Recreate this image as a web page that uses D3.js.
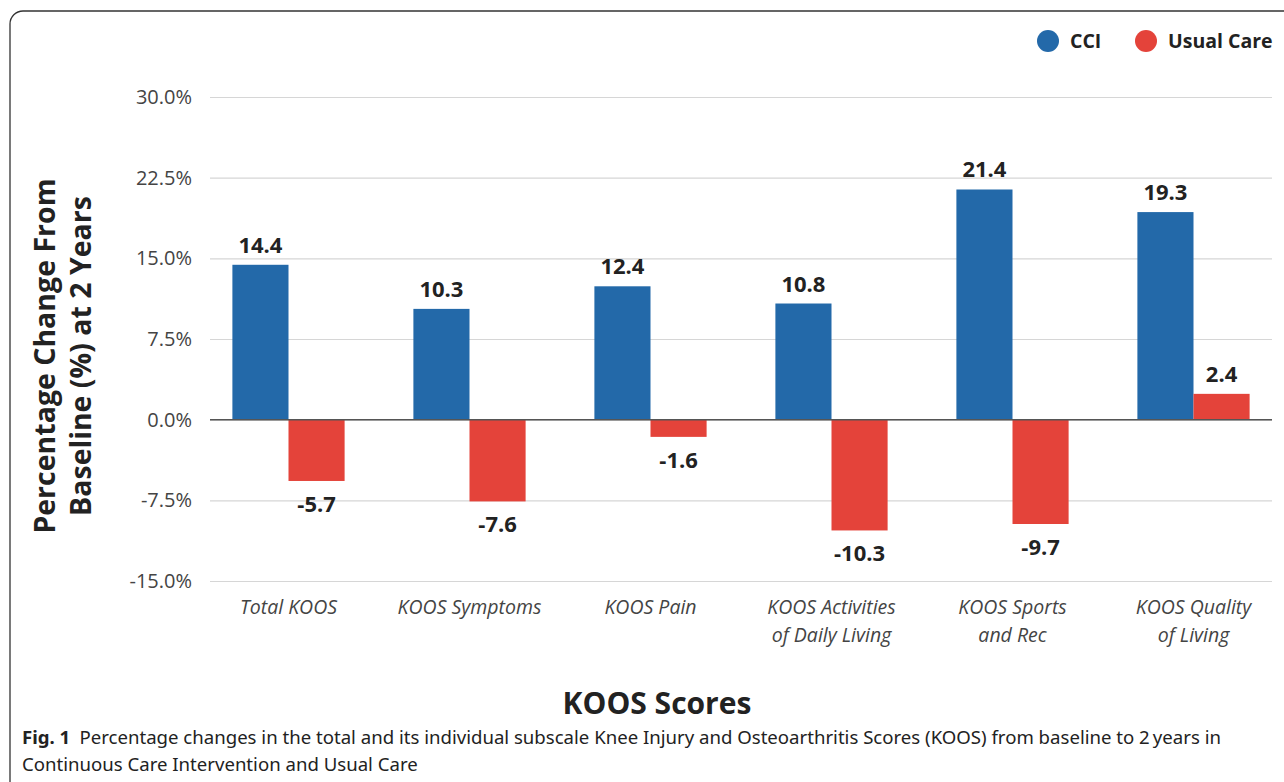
<!DOCTYPE html>
<html>
<head>
<meta charset="utf-8">
<script src="https://cdn.jsdelivr.net/npm/d3@7"></script>
<style>
  body { margin: 0; background: #fff; }
  svg { display: block; }
</style>
</head>
<body>
<div id="chart"></div>
<script>
// data
var categories = [
  ["Total KOOS"],
  ["KOOS Symptoms"],
  ["KOOS Pain"],
  ["KOOS Activities", "of Daily Living"],
  ["KOOS Sports", "and Rec"],
  ["KOOS Quality", "of Living"]
];
var seriesNames = ["CCI", "Usual Care"];
var cciValues = [14.4, 10.3, 12.4, 10.8, 21.4, 19.3];
var usualCareValues = [-5.7, -7.6, -1.6, -10.3, -9.7, 2.4];
var yTicks = [-15, -7.5, 0, 7.5, 15, 22.5, 30];

var colBlue = "#2369a9";
var colRed = "#e4433a";

// plain hyphen for negatives, like the figure
function fmt1(v) { return d3.format(".1f")(v).replace("\u2212", "-"); }

(function(){
  var W = 1284, H = 782;
  var svg = d3.select("#chart").append("svg")
    .attr("width", W).attr("height", H);

  // frame round the figure (cut by the page edge)
  svg.append("rect")
    .attr("x", 10).attr("y", 11)
    .attr("width", 1320).attr("height", 820)
    .attr("rx", 13)
    .attr("fill", "none")
    .attr("stroke", "#333")
    .attr("stroke-width", 1.3);

  var gridL = 210, gridR = 1272;

  ///////////////////////////////////////// scales
  var y = d3.scaleLinear().domain([-15, 30]).range([581, 97]);
  var x0 = d3.scaleBand()
    .domain(d3.range(categories.length))
    .range([198, 1284])
    .paddingInner(0.38)
    .paddingOuter(0.19);
  var x1 = d3.scaleBand().domain([0, 1]).range([0, x0.bandwidth()]);

  ///////////////////////////////////////// gridlines + y labels
  var yAxis = svg.append("g")
    .attr("transform", "translate(" + gridL + ",0)")
    .call(d3.axisLeft(y)
      .tickValues(yTicks)
      .tickSize(-(gridR - gridL))
      .tickPadding(18)
      .tickFormat(function(d){ return fmt1(d) + "%"; }));
  yAxis.select(".domain").remove();
  yAxis.selectAll("line")
    .attr("stroke", "#d6d6d6")
    .attr("stroke-width", 1.2);
  yAxis.selectAll("text")
    .attr("fill", "#444")
    .style("font-family", "'Open Sans', sans-serif")
    .style("font-size", "20px");

  ///////////////////////////////////////// bars
  var rows = categories.map(function(c, i){
    return { i: i, vals: [cciValues[i], usualCareValues[i]] };
  });
  var groups = svg.selectAll(".grp").data(rows).enter().append("g")
    .attr("transform", function(d){ return "translate(" + x0(d.i) + ",0)"; });

  groups.selectAll("rect")
    .data(function(d){ return d.vals.map(function(v, k){ return { k: k, v: v }; }); })
    .enter().append("rect")
      .attr("x", function(d){ return x1(d.k); })
      .attr("width", x1.bandwidth())
      .attr("y", function(d){ return y(Math.max(0, d.v)); })
      .attr("height", function(d){ return Math.abs(y(d.v) - y(0)); })
      .attr("fill", function(d){ return d.k === 0 ? colBlue : colRed; });

  groups.selectAll(".val")
    .data(function(d){ return d.vals.map(function(v, k){ return { k: k, v: v }; }); })
    .enter().append("text")
      .attr("x", function(d){ return x1(d.k) + x1.bandwidth() / 2; })
      .attr("y", function(d){ return d.v >= 0 ? y(d.v) - 12 : y(d.v) + 31; })
      .attr("text-anchor", "middle")
      .attr("fill", "#222")
      .style("font-family", "'Open Sans', sans-serif")
      .style("font-weight", "700")
      .style("font-size", "22px")
      .text(function(d){ return fmt1(d.v); });

  // zero line
  svg.append("line")
    .attr("x1", gridL).attr("x2", gridR)
    .attr("y1", y(0)).attr("y2", y(0))
    .attr("stroke", "#555")
    .attr("stroke-width", 1.5);

  ///////////////////////////////////////// category labels
  var catText = svg.selectAll(".cat").data(categories).enter().append("text")
    .attr("text-anchor", "middle")
    .attr("fill", "#444")
    .style("font-family", "'Open Sans', sans-serif")
    .style("font-style", "italic")
    .style("font-size", "19.5px")
    .attr("transform", function(d, i){ return "translate(" + (x0(i) + x0.bandwidth() / 2) + ",614)"; });
  catText.selectAll("tspan").data(function(d){ return d; }).enter().append("tspan")
    .attr("x", 0)
    .attr("dy", function(d, j){ return j === 0 ? 0 : 28; })
    .text(function(d){ return d; });

  ///////////////////////////////////////// axis titles
  var yTitle = svg.append("text")
    .attr("transform", "translate(0,356) rotate(-90)")
    .attr("text-anchor", "middle")
    .attr("fill", "#222")
    .style("font-family", "'Open Sans', sans-serif")
    .style("font-weight", "700")
    .style("font-size", "28.5px");
  yTitle.append("tspan").attr("x", 0).attr("y", 55).text("Percentage Change From");
  yTitle.append("tspan").attr("x", 0).attr("y", 91).text("Baseline (%) at 2 Years");

  svg.append("text")
    .attr("x", 657).attr("y", 714)
    .attr("text-anchor", "middle")
    .attr("fill", "#222")
    .style("font-family", "'Open Sans', sans-serif")
    .style("font-weight", "700")
    .style("font-size", "30px")
    .text("KOOS Scores");

  ///////////////////////////////////////// legend
  var legend = [
    { name: seriesNames[0], col: colBlue, cx: 1048, tx: 1070 },
    { name: seriesNames[1], col: colRed, cx: 1146, tx: 1168 }
  ];
  var lg = svg.selectAll(".lg").data(legend).enter().append("g");
  lg.append("circle")
    .attr("cx", function(d){ return d.cx; })
    .attr("cy", 41).attr("r", 11)
    .attr("fill", function(d){ return d.col; });
  lg.append("text")
    .attr("x", function(d){ return d.tx; })
    .attr("y", 48)
    .attr("fill", "#222")
    .style("font-family", "'Open Sans', sans-serif")
    .style("font-weight", "700")
    .style("font-size", "19.5px")
    .text(function(d){ return d.name; });

  ///////////////////////////////////////// caption
  var cap = svg.append("text")
    .attr("x", 22).attr("y", 744)
    .attr("fill", "#222")
    .style("font-family", "'Noto Sans', sans-serif")
    .style("font-size", "18.6px");
  cap.append("tspan").style("font-weight", "700").text("Fig. 1");
  cap.append("tspan").text("\u2002Percentage changes in the total and its individual subscale Knee Injury and Osteoarthritis Scores (KOOS) from baseline to 2\u2009years in");
  svg.append("text")
    .attr("x", 22).attr("y", 771)
    .attr("fill", "#222")
    .style("font-family", "'Noto Sans', sans-serif")
    .style("font-size", "18.6px")
    .text("Continuous Care Intervention and Usual Care");
})();
</script>
</body>
</html>
